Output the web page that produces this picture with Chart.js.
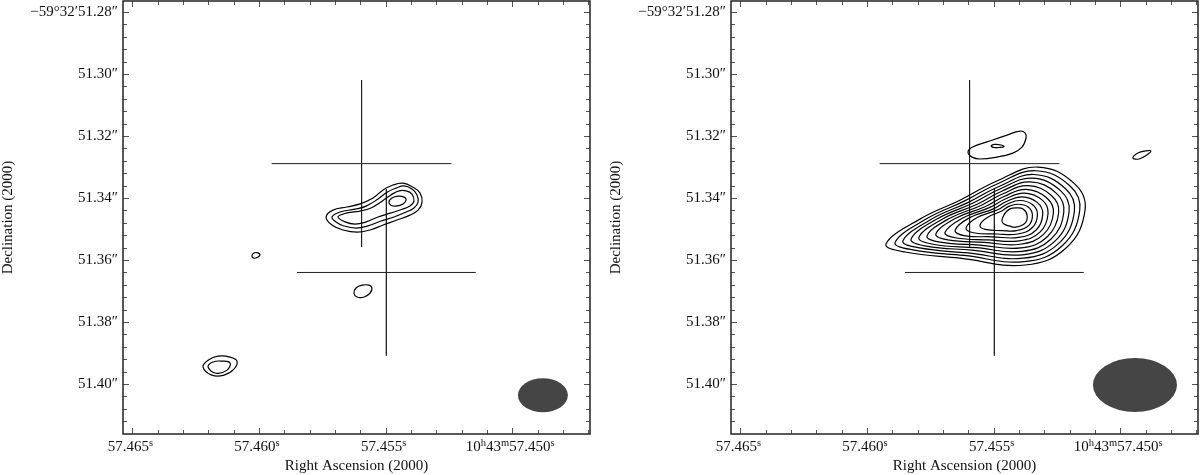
<!DOCTYPE html>
<html>
<head>
<meta charset="utf-8">
<style>
  html, body { margin: 0; padding: 0; background: #fff; overflow: hidden; }
  canvas { position: absolute; top: 0; }
  #left { left: 0; }
  #right { left: 608px; }
</style>
</head>
<body>
<canvas id="left" width="600" height="475"></canvas>
<canvas id="right" width="592" height="475"></canvas>
<script src="https://cdn.jsdelivr.net/npm/chart.js@4.4.1/dist/chart.umd.min.js"></script>
<script>
// x = RA offset in ms of time from 57.460s, y = Dec offset in mas from 51.28"
const xTicks = [5, 0, -5, -10];
const xTickLabels = ["57.465^s", "57.460^s", "57.455^s", "10^h43^m57.450^s"];
const yTicks = [0, 20, 40, 60, 80, 100, 120];
const yTickLabels = ["\u221259\u00b032\u203251.28\u2033", "51.30\u2033", "51.32\u2033", "51.34\u2033",
                     "51.36\u2033", "51.38\u2033", "51.40\u2033"];

// two position crosses (centre and half extent), same in both panels
const crossX = [-4.05, -5.03];
const crossY = [48.9, 84.0];
const crossErrX = [3.55, 3.53];
const crossErrY = [26.9, 26.8];

// restoring beams: centre x, centre y, full width (ms), full height (mas)
const beamLeft = [-11.21, 123.6, 1.97, 11.0];
const beamRight = [-10.58, 120.3, 3.32, 17.4];

const leftContours = [
  [[-2.65,66.1],[-2.92,63.9],[-3.47,62.9],[-3.99,61.9],[-4.50,60.0],[-4.90,57.4],[-5.29,55.8],[-5.69,55.2],[-6.08,56.5],[-6.36,58.4],[-6.44,61.3],[-6.28,63.9],[-5.96,65.5],[-5.45,67.1],[-4.90,68.7],[-4.38,70.3],[-3.87,71.0],[-3.32,70.3],[-2.88,68.7]],
  [[-2.88,66.1],[-3.20,64.5],[-3.79,63.6],[-4.23,62.6],[-4.70,60.3],[-5.06,58.1],[-5.41,56.8],[-5.73,56.1],[-6.04,57.1],[-6.24,59.0],[-6.28,61.3],[-6.12,63.2],[-5.81,64.5],[-5.33,66.1],[-4.82,67.4],[-4.30,69.0],[-3.83,69.7],[-3.36,69.0],[-3.04,67.7]],
  [[-3.12,66.1],[-3.47,64.8],[-3.99,64.2],[-4.42,63.2],[-4.86,61.0],[-5.21,59.0],[-5.53,57.7],[-5.81,57.7],[-6.04,58.7],[-6.12,61.0],[-5.96,62.6],[-5.65,63.6],[-5.21,64.8],[-4.70,66.1],[-4.23,67.7],[-3.79,68.4],[-3.40,67.7]],
  [[-5.13,61.3],[-5.25,60.0],[-5.49,59.4],[-5.73,59.7],[-5.81,60.6],[-5.69,61.9],[-5.41,62.6],[-5.21,62.3]],
  [[0.28,78.7],[0.20,77.7],[0.04,77.7],[-0.04,78.4],[0.04,79.0],[0.20,79.4]],
  [[-3.75,90.7],[-3.83,89.0],[-4.07,88.1],[-4.34,88.1],[-4.46,89.0],[-4.38,90.7],[-4.15,91.9],[-3.87,91.9]],
  [[2.21,114.5],[2.01,112.3],[1.62,111.0],[1.14,111.3],[0.87,112.6],[0.99,115.2],[1.38,117.1],[1.86,117.1]],
  [[2.01,114.5],[1.82,112.9],[1.46,112.6],[1.14,113.2],[1.26,115.5],[1.70,116.5]]
];

const rightContours = [
  [[-0.75,74.8],[-2.09,66.8],[-3.67,60.7],[-5.13,54.5],[-6.75,50.0],[-8.21,55.5],[-8.61,63.9],[-7.86,76.1],[-6.24,81.6],[-3.67,79.4],[-1.50,77.4]],
  [[-1.11,74.3],[-2.35,66.7],[-3.84,61.0],[-5.18,55.3],[-6.67,51.2],[-8.03,56.2],[-8.40,64.0],[-7.71,75.4],[-6.21,80.5],[-3.83,78.5],[-1.81,76.7]],
  [[-1.42,73.8],[-2.57,66.7],[-4.00,61.4],[-5.23,56.2],[-6.59,52.4],[-7.84,57.0],[-8.19,64.2],[-7.56,74.7],[-6.17,79.4],[-3.99,77.7],[-2.08,76.1]],
  [[-1.74,73.2],[-2.80,66.6],[-4.17,61.7],[-5.27,57.0],[-6.51,53.6],[-7.65,57.7],[-7.98,64.3],[-7.42,73.9],[-6.14,78.3],[-4.14,76.8],[-2.34,75.5]],
  [[-2.05,72.7],[-3.02,66.6],[-4.33,62.1],[-5.32,57.8],[-6.44,54.8],[-7.47,58.4],[-7.77,64.5],[-7.27,73.2],[-6.11,77.2],[-4.30,76.0],[-2.61,74.9]],
  [[-2.37,72.2],[-3.25,66.6],[-4.50,62.4],[-5.37,58.6],[-6.36,56.0],[-7.28,59.2],[-7.57,64.6],[-7.12,72.5],[-6.08,76.1],[-4.45,75.2],[-2.88,74.2]],
  [[-2.72,71.6],[-3.50,66.5],[-4.66,62.8],[-5.41,59.5],[-6.28,57.2],[-7.09,59.9],[-7.36,64.8],[-6.97,71.7],[-6.04,74.9],[-4.62,74.3],[-3.19,73.5]],
  [[-3.08,71.1],[-3.76,66.5],[-4.83,63.1],[-5.46,60.3],[-6.20,58.4],[-6.91,60.6],[-7.15,64.9],[-6.83,71.0],[-6.01,73.8],[-4.78,73.5],[-3.49,72.8]],
  [[-3.48,70.4],[-4.04,66.4],[-4.99,63.5],[-5.51,61.1],[-6.12,59.6],[-6.72,61.4],[-6.94,65.1],[-6.68,70.3],[-5.98,72.7],[-4.95,72.5],[-3.83,72.1]],
  [[-3.91,69.7],[-4.35,66.3],[-5.16,63.8],[-5.55,61.9],[-6.04,60.8],[-6.53,62.1],[-6.73,65.2],[-6.53,69.5],[-5.95,71.6],[-5.13,71.6],[-4.20,71.2]],
  [[-4.46,68.8],[-4.75,66.3],[-5.32,64.2],[-5.60,62.7],[-5.96,62.0],[-6.35,62.8],[-6.53,65.3],[-6.39,68.8],[-5.91,70.5],[-5.34,70.5],[-4.67,70.1]],
  [[-5.33,67.4],[-5.37,66.1],[-5.49,64.5],[-5.65,63.5],[-5.88,63.2],[-6.16,63.5],[-6.32,65.5],[-6.24,68.1],[-5.88,69.4],[-5.61,69.0],[-5.41,68.4]],
  [[-3.99,45.2],[-4.15,43.6],[-4.74,41.9],[-5.53,39.7],[-6.04,38.4],[-6.24,39.0],[-6.28,40.6],[-6.12,43.6],[-5.76,45.5],[-5.13,46.8],[-4.46,47.4],[-4.15,46.8]],
  [[-4.90,43.2],[-5.05,42.7],[-5.29,42.9],[-5.41,43.4],[-5.21,43.7],[-5.01,43.7]],
  [[-10.50,47.1],[-10.70,45.5],[-11.01,44.8],[-11.21,44.8],[-11.05,46.1],[-10.74,47.4]]
];

const FONT = "'Liberation Serif', 'DejaVu Serif', serif";

function contourSet(pts) {
  return {
    data: pts.map(p => ({ x: p[0], y: p[1] })),
    closed: true,
    borderColor: '#000',
    borderWidth: 1.2,
    pointRadius: 0,
    tension: 0.42,
    fill: false
  };
}

function crossSets() {
  const sets = [];
  for (let i = 0; i < crossX.length; i++) {
    sets.push({ data: [{ x: crossX[i] - crossErrX[i], y: crossY[i] }, { x: crossX[i] + crossErrX[i], y: crossY[i] }] });
    sets.push({ data: [{ x: crossX[i], y: crossY[i] - crossErrY[i] }, { x: crossX[i], y: crossY[i] + crossErrY[i] }] });
  }
  return sets.map(s => Object.assign(s, { borderColor: '#222', borderWidth: 1, pointRadius: 0, tension: 0, fill: false }));
}

// draws one label with ^x superscripts
function drawLabel(ctx, text, cx, baseline) {
  const parts = text.split(/(\^.)/).filter(s => s.length);
  const big = '15px ' + FONT, small = '10.5px ' + FONT;
  let w = 0;
  parts.forEach(p => { ctx.font = p[0] === '^' ? small : big; w += ctx.measureText(p[0] === '^' ? p.slice(1) : p).width; });
  let x = cx - w / 2;
  ctx.textAlign = 'left';
  ctx.textBaseline = 'alphabetic';
  parts.forEach(p => {
    const sup = p[0] === '^';
    const t = sup ? p.slice(1) : p;
    ctx.font = sup ? small : big;
    ctx.fillText(t, x, sup ? baseline - 5 : baseline);
    x += ctx.measureText(t).width;
  });
}

function makePlugin(beam) {
  return {
    id: 'mapframe',
    afterDatasetsUpdate(chart) {
      chart.data.datasets.forEach((ds, i) => {
        if (!ds.closed) return;
        const line = chart.getDatasetMeta(i).dataset;
        line._loop = true;
        line._fullLoop = true;
        line._segments = undefined;
        line._path = undefined;
        line._pointsUpdated = false;
      });
    },
    beforeDatasetsDraw(chart) {
      const ctx = chart.ctx, xs = chart.scales.x, ys = chart.scales.y;
      const cx = xs.getPixelForValue(beam[0]), cy = ys.getPixelForValue(beam[1]);
      const rx = Math.abs(xs.getPixelForValue(beam[0] + beam[2] / 2) - cx);
      const ry = Math.abs(ys.getPixelForValue(beam[1] + beam[3] / 2) - cy);
      ctx.save();
      ctx.fillStyle = '#454545';
      ctx.beginPath();
      ctx.ellipse(cx, cy, rx, ry, 0, 0, Math.PI * 2);
      ctx.fill();
      ctx.restore();
    },
    afterDraw(chart) {
      const ctx = chart.ctx, ca = chart.chartArea, xs = chart.scales.x, ys = chart.scales.y;
      ctx.save();
      // ticks on all four sides, pointing in
      ctx.strokeStyle = '#555';
      ctx.lineWidth = 1;
      ctx.beginPath();
      for (let v = -13; v <= 5; v++) {
        const px = Math.round(xs.getPixelForValue(v)) + 0.5;
        const len = xTicks.includes(v) ? 6 : 4;
        ctx.moveTo(px, ca.bottom); ctx.lineTo(px, ca.bottom - len);
        ctx.moveTo(px, ca.top); ctx.lineTo(px, ca.top + len);
      }
      for (let v = 0; v <= 136; v += 4) {
        const py = Math.round(ys.getPixelForValue(v)) + 0.5;
        if (py > ca.bottom - 1) continue;
        const len = yTicks.includes(v) ? 6 : 4;
        ctx.moveTo(ca.left, py); ctx.lineTo(ca.left + len, py);
        ctx.moveTo(ca.right, py); ctx.lineTo(ca.right - len, py);
      }
      ctx.stroke();
      // frame
      ctx.strokeStyle = '#222';
      ctx.lineWidth = 1.5;
      ctx.strokeRect(ca.left, ca.top, ca.right - ca.left, ca.bottom - ca.top);
      // tick labels
      ctx.fillStyle = '#111';
      xTicks.forEach((v, i) => drawLabel(ctx, xTickLabels[i], xs.getPixelForValue(v) - 2, ca.bottom + 17));
      ctx.font = '15px ' + FONT;
      ctx.textAlign = 'right';
      ctx.textBaseline = 'middle';
      yTicks.forEach((v, i) => ctx.fillText(yTickLabels[i], ca.left - 5, ys.getPixelForValue(v)));
      // axis titles
      ctx.textAlign = 'center';
      ctx.fillText('Right Ascension (2000)', (ca.left + ca.right) / 2, ca.bottom + 32);
      ctx.translate(8, (ca.top + ca.bottom) / 2);
      ctx.rotate(-Math.PI / 2);
      ctx.fillText('Declination (2000)', 0, 0);
      ctx.restore();
    }
  };
}

function makeChart(id, contours, beam, rightPad) {
  return new Chart(document.getElementById(id), {
    type: 'line',
    data: { datasets: contours.map(contourSet).concat(crossSets()) },
    options: {
      responsive: false,
      animation: false,
      devicePixelRatio: 1,
      layout: { padding: { left: 123, top: 1, right: rightPad, bottom: 41 } },
      scales: {
        x: { type: 'linear', display: false, reverse: true, min: -13.07, max: 5.37 },
        y: { type: 'linear', display: false, reverse: true, min: -3.55, max: 136.1 }
      },
      plugins: { legend: { display: false }, tooltip: { enabled: false } }
    },
    plugins: [makePlugin(beam)]
  });
}

makeChart('left', leftContours, beamLeft, 10);
makeChart('right', rightContours, beamRight, 2);
</script>
</body>
</html>
